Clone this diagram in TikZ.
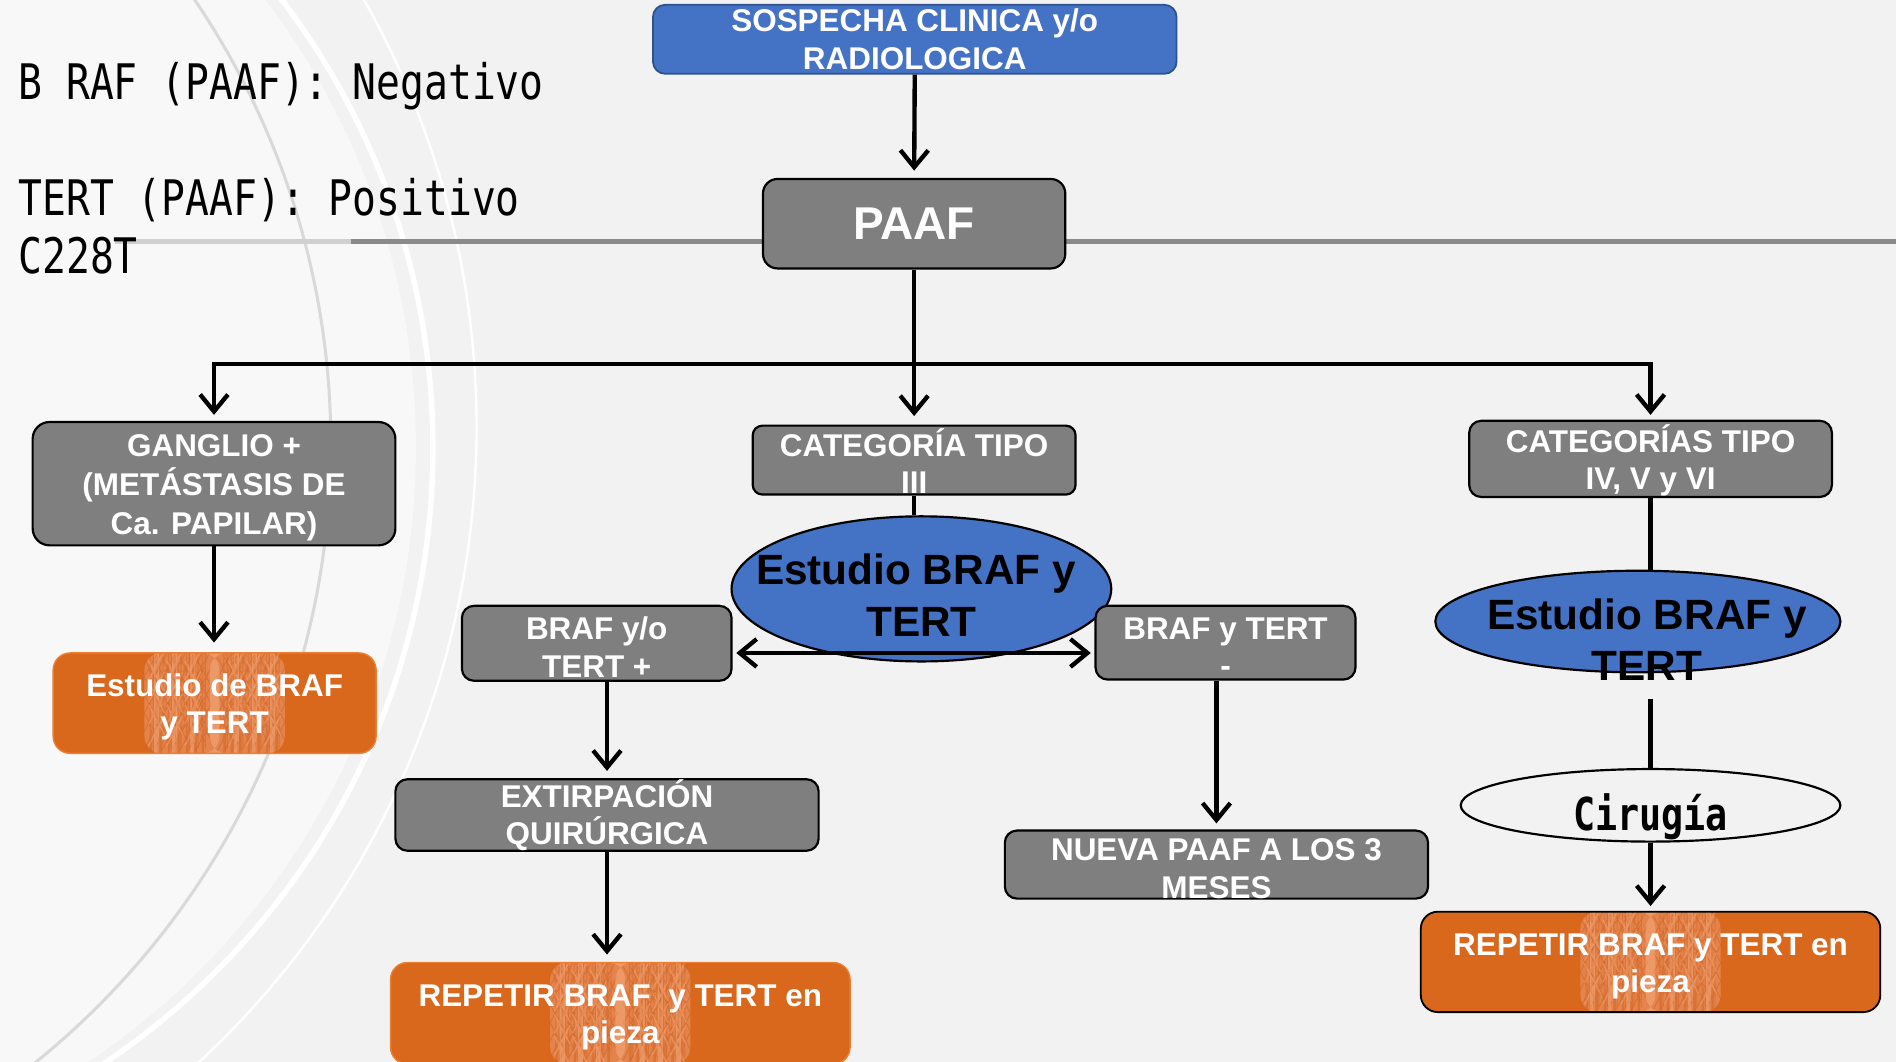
\documentclass[tikz,border=0pt]{standalone}
\usepackage{fontspec}
\setmainfont{Liberation Sans}
\newfontfamily\gothic[FakeStretch=0.81]{DejaVu Sans Mono}
\usetikzlibrary{arrows.meta,shapes.geometric,decorations.pathmorphing}
\definecolor{bg}{HTML}{F2F2F2}
\definecolor{bgw}{HTML}{F8F8F8}
\definecolor{boxgray}{HTML}{7F7F7F}
\definecolor{blu}{HTML}{4472C4}
\definecolor{bluedge}{HTML}{2F528F}
\definecolor{orng}{HTML}{D9681D}
\definecolor{orngedge}{HTML}{ED7D31}
\definecolor{bandc}{HTML}{E4844C}
\definecolor{grain}{HTML}{D06526}
\definecolor{grainlight}{HTML}{F2A679}
\definecolor{arcgray}{HTML}{D9D9D9}
\definecolor{lightline}{HTML}{D0D0D0}
\definecolor{darkline}{HTML}{8A8A8A}
\newcommand{\ts}{\rule{0pt}{25pt}}
\tikzset{
  boxfont/.style={font=\fontsize{26}{31}\selectfont\bfseries},
  gbox/.style={draw=black, line width=1.8pt, fill=boxgray, rounded corners=12pt,
    text=white, boxfont, align=center, inner sep=0pt},
  obox/.style={fill=orng, rounded corners=14pt, text=white, boxfont, align=center, inner sep=0pt,
    path picture={
      \fill[bandc] ([xshift=-58pt]path picture bounding box.north) rectangle ([xshift=58pt]path picture bounding box.south);
      \foreach \o in {-52,-44,-37,-29,-22,-15,-9,9,15,22,29,37,44,52}
        \draw[grain, line width=0.8pt, opacity=0.55, decorate,
          decoration={snake, amplitude=1.3pt, segment length=15pt}]
          ([xshift=\o pt]path picture bounding box.north) -- ([xshift=\o pt]path picture bounding box.south);
      \foreach \o in {-48,-33,-18,18,33,48}
        \draw[grainlight, line width=1.2pt, opacity=0.5, decorate,
          decoration={snake, amplitude=1.5pt, segment length=18pt}]
          ([xshift=\o pt]path picture bounding box.north) -- ([xshift=\o pt]path picture bounding box.south);
      \fill[grainlight, opacity=0.6] ([xshift=-4pt]path picture bounding box.north) rectangle ([xshift=4pt]path picture bounding box.south);
    }},
  ellblue/.style={ellipse, draw=black, line width=1.8pt, fill=blu, inner sep=0pt},
  elltext/.style={font=\fontsize{35}{43}\selectfont\bfseries, align=center, inner sep=0pt, text=black},
  lefttxt/.style={font=\fontsize{40.5}{48}\gothic, inner sep=0pt, anchor=base west, text=black},
  plain/.style={line width=3.6pt, draw=black},
  conn/.style={plain, -{Straight Barb[length=14pt,width=23pt]}},
  dconn/.style={plain, {Straight Barb[length=14pt,width=23pt]}-{Straight Barb[length=14pt,width=23pt]}},
}
\begin{document}
\begin{tikzpicture}[x=1pt,y=-1pt]
\useasboundingbox (0,0) rectangle (1568,878);
% background
\fill[bg] (0,0) rectangle (1568,878);
\begin{scope}
  \clip (0,0) rectangle (1568,878);
  \fill[bgw] (-268,370) circle[radius=612pt];
  \draw[arcgray, line width=2.5pt] (-383,367.6) circle[radius=656.6pt];
  \draw[white, line width=4.5pt] (-254,370.5) circle[radius=612pt];
  \draw[white, line width=2pt] (-321.7,353.1) circle[radius=715.8pt];
\end{scope}
\draw[lightline, line width=4pt] (95,200) -- (290,200);
\draw[darkline, line width=4pt] (290,200) -- (1568,200);

% left texts
\node[lefttxt] (t1) at (15,82) {B RAF (PAAF): Negativo};
\node[lefttxt] (t2) at (15,178) {TERT (PAAF): Positivo};
\node[lefttxt] (t3) at (15,226) {C228T};

% nodes
\node[draw=bluedge, line width=1.5pt, fill=blu, rounded corners=10pt, text=white, boxfont,
  align=center, inner sep=0pt, minimum width=433pt, minimum height=57pt]
  (sosp) at (756.5,32.5) {SOSPECHA CLINICA y/o\\RADIOLOGICA};
\node[gbox, minimum width=250pt, minimum height=74pt, font=\fontsize{38}{44}\selectfont\bfseries]
  (paaf) at (756,185) {PAAF};
\node[gbox, rounded corners=14pt, minimum width=300pt, minimum height=102pt,
  font=\fontsize{26}{32}\selectfont\bfseries]
  (gang) at (177,400) {\ts GANGLIO +\\(METÁSTASIS DE\\Ca. PAPILAR)};
\node[gbox, rounded corners=8pt, minimum width=267pt, minimum height=57pt]
  (cat3) at (756,380.5) {\ts CATEGORÍA TIPO\\III};
\node[gbox, rounded corners=10pt, minimum width=300pt, minimum height=63pt]
  (cat456) at (1365,379.5) {\ts CATEGORÍAS TIPO\\IV, V y VI};
\node[obox, draw=orngedge, line width=1.2pt, minimum width=267pt, minimum height=83pt]
  (est1) at (177.5,581.5) {\ts Estudio de BRAF\\y TERT};

\node[ellblue, minimum width=314pt, minimum height=120pt] (ell1) at (762,487) {};
\node[elltext] (ell1t) at (762,492) {Estudio BRAF y\hspace*{9pt}\\TERT};

\node[gbox, rounded corners=10pt, minimum width=223pt, minimum height=62pt]
  (brafpos) at (493.5,532) {\ts BRAF y/o\\TERT +};
\node[gbox, rounded corners=10pt, minimum width=215pt, minimum height=61pt]
  (brafneg) at (1013.5,531.5) {\ts BRAF y TERT\\-};
\node[gbox, rounded corners=10pt, minimum width=350pt, minimum height=56pt]
  (extir) at (502,674) {EXTIRPACIÓN\\QUIRÚRGICA};
\node[obox, draw=orngedge, line width=1.2pt, minimum width=380pt, minimum height=84pt]
  (rep1) at (513,838) {\ts REPETIR BRAF\ \ y TERT en\\pieza};
\node[gbox, rounded corners=10pt, minimum width=350pt, minimum height=56pt]
  (nueva) at (1006,715) {\ts NUEVA PAAF A LOS 3\\MESES};

\node[ellblue, minimum width=335pt, minimum height=84pt] (ell2) at (1354.5,514) {};
\node[elltext] (ell2t) at (1362,529) {Estudio BRAF y\\TERT};
\node[ellipse, draw=black, line width=1.8pt, fill=bg, inner sep=0pt,
  minimum width=314pt, minimum height=60pt] (cir) at (1365,666) {};
\node[font=\fontsize{37.5}{44}\gothic\bfseries, inner sep=0pt, anchor=base] (cirt) at (1365,687) {Cirugía};
\node[obox, draw=black, line width=1.5pt, minimum width=380pt, minimum height=83pt]
  (rep2) at (1365,795.5) {\ts REPETIR BRAF y TERT en\\pieza};

% connectors
\coordinate (bus) at (756,301);
\draw[conn, shorten >=6pt] (sosp.south) -- (paaf.north);
\draw[plain] (paaf.south) -- (bus);
\draw[conn, shorten >=5pt] (bus) -| (gang.north);
\draw[conn, shorten >=4pt] (bus) -| (cat456.north);
\draw[conn, shorten >=7pt] (bus) -- (cat3.north);
\draw[plain] (cat3.south) -- (cat3.south |- ell1.north);
\draw[plain] (cat456.south) -- (cat456.south |- ell2.north);
\draw[plain, shorten <=21pt] (cat456.south |- ell2.south) -- (cir.north);
\draw[conn, shorten >=4pt] (cir.south) -- (rep2.north);
\draw[conn, shorten >=8pt] (gang.south) -- (gang.south |- est1.north);
\draw[dconn, shorten <=3pt, shorten >=3pt] ([yshift=-8pt]brafpos.east) -- ([yshift=-8pt]brafpos.east -| brafneg.west);
\draw[conn, shorten >=6pt] (brafpos.south -| extir.north) -- (extir.north);
\draw[conn, shorten >=6pt] (extir.south) -- (extir.south |- rep1.north);
\draw[conn, shorten >=5pt] (brafneg.south -| nueva.north) -- (nueva.north);
\end{tikzpicture}
\end{document}
